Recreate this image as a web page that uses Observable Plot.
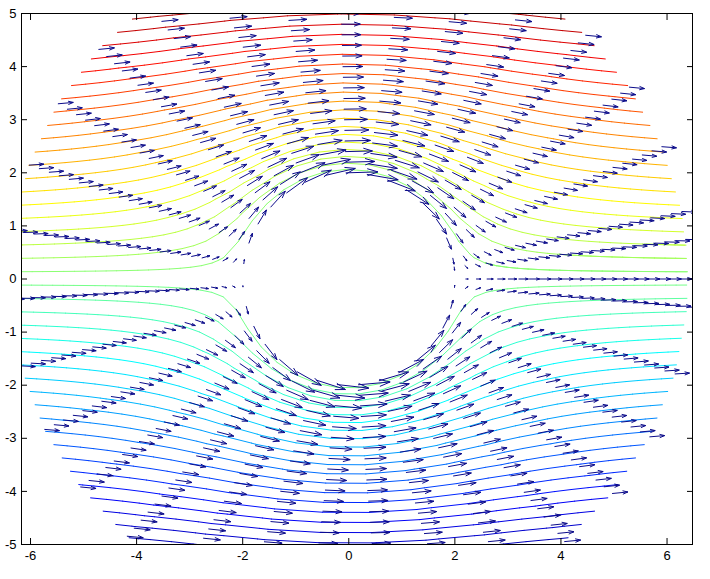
<!DOCTYPE html>
<html><head><meta charset="utf-8">
<script src="https://cdn.jsdelivr.net/npm/d3@7"></script>
<script src="https://cdn.jsdelivr.net/npm/@observablehq/plot@0.6"></script>
<style>body{margin:0;background:#fff}</style>
</head><body><div id="chart"></div>
<script>
// Polar sampling grid (radius and angle in radians) of the flow around a cylinder
const radii = [2.0, 2.2, 2.4, 2.6, 2.8, 3.0, 3.2, 3.4, 3.6, 3.8, 4.0, 4.2, 4.4, 4.6, 4.8, 5.0, 5.2, 5.4, 5.6, 5.8, 6.0, 6.2, 6.4];
const angles = [0, 0.2, 0.4, 0.6, 0.8, 1.0, 1.2, 1.4, 1.6, 1.8, 2.0, 2.2, 2.4, 2.6, 2.8, 3.0, 3.2, 3.4, 3.6, 3.8, 4.0, 4.2, 4.4, 4.6, 4.8, 5.0, 5.2, 5.4, 5.6, 5.8, 6.0, 6.2, 6.4];
// Stream-function contour levels
const levels = [-5.527, -5.301, -5.075, -4.849, -4.623, -4.397, -4.171, -3.945, -3.719, -3.493,
  -3.267, -3.041, -2.815, -2.589, -2.363, -2.137, -1.911, -1.685, -1.459, -1.233,
  -1.007, -0.781, -0.555, -0.329, -0.103, 0.123, 0.349, 0.575, 0.801, 1.027,
  1.253, 1.479, 1.705, 1.931, 2.157, 2.383, 2.609, 2.835, 3.061, 3.287,
  3.513, 3.739, 3.965, 4.191, 4.417, 4.643, 4.869, 5.095, 5.321, 5.547];
const colorLimits = [-4.85, 4.85];
const xTicks = [-6, -4, -2, 0, 2, 4, 6];
const yTicks = [-5, -4, -3, -2, -1, 0, 1, 2, 3, 4, 5];
const freeStream = 1;     // U
const cylinderRadius = 2; // a
const jetStops = [0, 0.125, 0.375, 0.625, 0.875, 1];
const jetColors = ["#000090", "#0000ff", "#00ffff", "#ffff00", "#ff0000", "#800000"];

// Field on the grid
const nodes = radii.map(r => angles.map(t => {
  const a2 = cylinderRadius * cylinderRadius;
  const x = r * Math.cos(t), y = r * Math.sin(t);
  const psi = freeStream * (r - a2 / r) * Math.sin(t);
  const ur = freeStream * (1 - a2 / (r * r)) * Math.cos(t);
  const ut = -freeStream * (1 + a2 / (r * r)) * Math.sin(t);
  const u = ur * Math.cos(t) - ut * Math.sin(t);
  const v = ur * Math.sin(t) + ut * Math.cos(t);
  return {x, y, psi, u, v};
}));
const flat = nodes.flat();

// Contour segments (marching squares on the structured grid)
const segs = [];
for (let i = 0; i < radii.length - 1; i++) {
  for (let j = 0; j < angles.length - 1; j++) {
    const c = [nodes[i][j], nodes[i + 1][j], nodes[i + 1][j + 1], nodes[i][j + 1]];
    for (const L of levels) {
      const pts = [];
      for (let k = 0; k < 4; k++) {
        const p = c[k], q = c[(k + 1) % 4];
        const a = p.psi - L, b = q.psi - L;
        if ((a < 0) !== (b < 0)) {
          const s = a / (a - b);
          pts.push([p.x + s * (q.x - p.x), p.y + s * (q.y - p.y)]);
        }
      }
      if (pts.length >= 2) segs.push({x1: pts[0][0], y1: pts[0][1], x2: pts[1][0], y2: pts[1][1], level: L});
      if (pts.length === 4) segs.push({x1: pts[2][0], y1: pts[2][1], x2: pts[3][0], y2: pts[3][1], level: L});
    }
  }
}

// Quiver with MATLAB-style autoscale and arrow heads
const m = radii.length, n = angles.length;
const delx = (d3.max(flat, d => d.x) - d3.min(flat, d => d.x)) / n;
const dely = (d3.max(flat, d => d.y) - d3.min(flat, d => d.y)) / m;
const del = delx * delx + dely * dely;
const maxlen = d3.max(flat, d => Math.sqrt((d.u * d.u + d.v * d.v) / del));
const sc = 0.9 / maxlen;
const alpha = 0.33, beta = 0.33;
const arrows = [];
for (const d of flat) {
  const u = d.u * sc, v = d.v * sc;
  const tx = d.x + u, ty = d.y + v;
  arrows.push({x1: d.x, y1: d.y, x2: tx, y2: ty});
  arrows.push({x1: tx - alpha * (u + beta * v), y1: ty - alpha * (v - beta * u), x2: tx, y2: ty});
  arrows.push({x1: tx - alpha * (u - beta * v), y1: ty - alpha * (v + beta * u), x2: tx, y2: ty});
}

const chart = Plot.plot({
  width: 710, height: 579,
  marginLeft: 21, marginRight: 18, marginTop: 13, marginBottom: 35,
  x: {domain: [-6.17, 6.48]},
  y: {domain: [-5, 5]},
  color: {type: "linear", domain: jetStops.map(t => colorLimits[0] + t * (colorLimits[1] - colorLimits[0])), range: jetColors, interpolate: "rgb", clamp: true},
  style: {fontFamily: "'Liberation Sans', Arial, sans-serif", fontSize: "13px", color: "black", background: "white"},
  marks: [
    Plot.link(segs, {x1: "x1", y1: "y1", x2: "x2", y2: "y2", stroke: "level", strokeWidth: 1, strokeLinecap: "round", clip: true}),
    Plot.link(arrows, {x1: "x1", y1: "y1", x2: "x2", y2: "y2", stroke: "#0b0b8a", strokeWidth: 1, clip: true}),
    Plot.frame({stroke: "black"}),
    Plot.axisX(xTicks, {anchor: "bottom", tickSize: 0, tickPadding: 6, tickFormat: d => String(d), label: null}),
    Plot.axisY(yTicks, {anchor: "left", tickSize: 0, tickPadding: 5, tickFormat: d => String(d), label: null}),
    Plot.axisX(xTicks, {anchor: "bottom", tickSize: 6, dy: -6, tickFormat: () => "", label: null}),
    Plot.axisX(xTicks, {anchor: "top", tickSize: 6, dy: 6, tickFormat: () => "", label: null}),
    Plot.axisY(yTicks, {anchor: "left", tickSize: 6, dx: 6, tickFormat: () => "", label: null}),
    Plot.axisY(yTicks, {anchor: "right", tickSize: 6, dx: -6, tickFormat: () => "", label: null})
  ]
});
document.getElementById("chart").appendChild(chart);
</script>
</body></html>
